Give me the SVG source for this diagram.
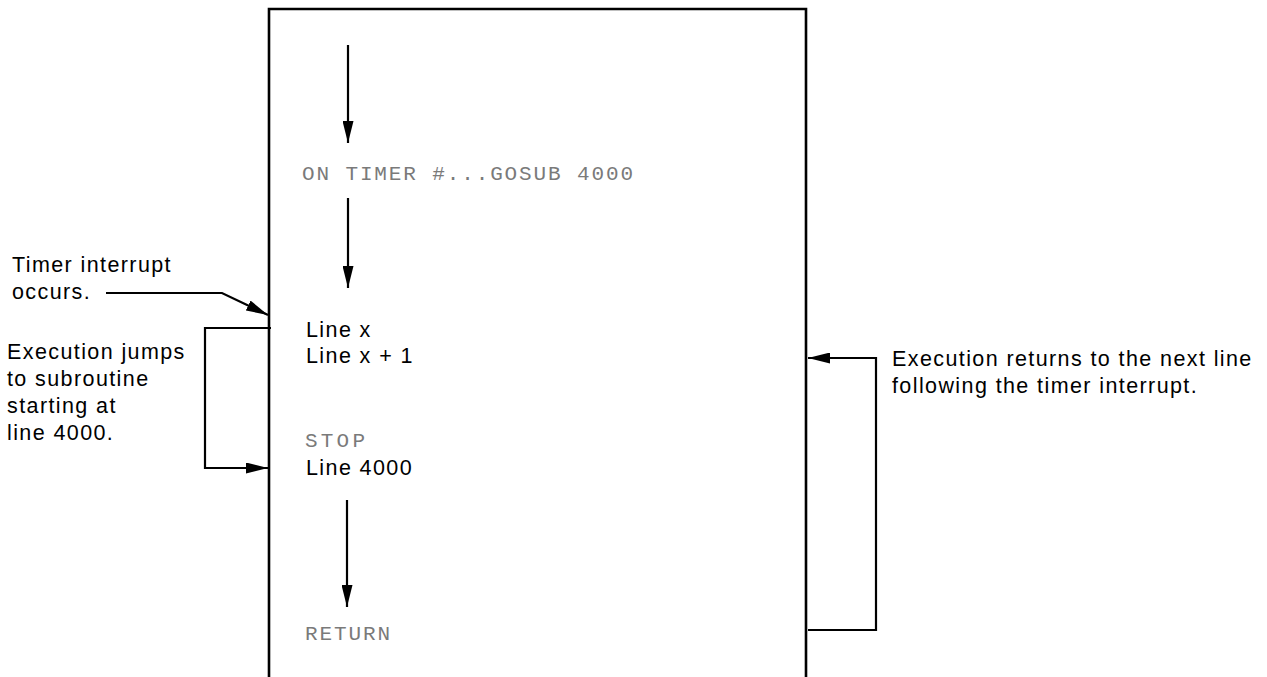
<svg xmlns="http://www.w3.org/2000/svg" width="1267" height="677" viewBox="0 0 1267 677">
<defs>
<marker id="ah" viewBox="0 0 22 11" refX="22" refY="5.5" markerWidth="22" markerHeight="11" markerUnits="userSpaceOnUse" orient="auto">
<path d="M0,0 L22,5.5 L0,11 Z" fill="#000"/>
</marker>
<style>
.lbl{font-family:"Liberation Sans",Arial,sans-serif;font-size:21.5px;letter-spacing:1.4px;fill:#000}
.code{font-family:"Liberation Mono","DejaVu Sans Mono",monospace;font-size:21px;fill:#7a7a7a}
.ln{stroke:#000;stroke-width:2.2;fill:none}
.box{stroke:#000;stroke-width:2.6;fill:none}
</style>
</defs>
<rect width="1267" height="677" fill="#fff"/>
<g id="program-box">
<path class="box" d="M269,677 V9 H806 V677"/>
</g>
<g id="on-timer"><text class="code" x="302" y="180" textLength="331" lengthAdjust="spacing">ON TIMER #...GOSUB 4000</text></g>
<g id="line-x"><text class="lbl" x="306" y="337">Line x</text></g>
<g id="line-x1"><text class="lbl" x="306" y="363">Line x + 1</text></g>
<g id="stop"><text class="code" x="305" y="447" textLength="60" lengthAdjust="spacing">STOP</text></g>
<g id="line-4000"><text class="lbl" x="306" y="475">Line 4000</text></g>
<g id="return"><text class="code" x="305" y="640" textLength="85" lengthAdjust="spacing">RETURN</text></g>
<g id="note-interrupt">
<text class="lbl" x="12" y="272">Timer interrupt</text>
<text class="lbl" x="12" y="299">occurs.</text>
</g>
<g id="note-jump">
<text class="lbl" x="7" y="359">Execution jumps</text>
<text class="lbl" x="7" y="386">to subroutine</text>
<text class="lbl" x="7" y="413">starting at</text>
<text class="lbl" x="7" y="440">line 4000.</text>
</g>
<g id="note-return">
<text class="lbl" x="892" y="366">Execution returns to the next line</text>
<text class="lbl" x="892" y="393">following the timer interrupt.</text>
</g>
<g id="connectors">
<line class="ln" x1="348" y1="45" x2="348" y2="143" marker-end="url(#ah)"/>
<line class="ln" x1="348" y1="198" x2="348" y2="288" marker-end="url(#ah)"/>
<line class="ln" x1="347" y1="500" x2="347" y2="607" marker-end="url(#ah)"/>
<polyline class="ln" points="106,293 222,293 268,315" marker-end="url(#ah)"/>
<polyline class="ln" points="271,328 205,328 205,468 268,468" marker-end="url(#ah)"/>
<polyline class="ln" points="808,630 876,630 876,358 808,358" marker-end="url(#ah)"/>
</g>
</svg>
